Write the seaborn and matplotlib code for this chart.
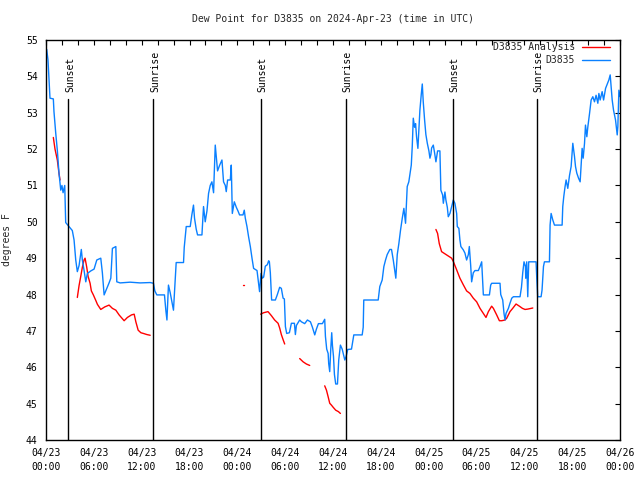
import numpy as np
import pandas as pd
import matplotlib
matplotlib.use("Agg")
import matplotlib.pyplot as plt
import seaborn as sns

# ---------------- data ----------------
title = "Dew Point for D3835 on 2024-Apr-23 (time in UTC)"
ylabel = "degrees F"
tick_labels = ["04/23\n00:00", "04/23\n06:00", "04/23\n12:00", "04/23\n18:00",
               "04/24\n00:00", "04/24\n06:00", "04/24\n12:00", "04/24\n18:00",
               "04/25\n00:00", "04/25\n06:00", "04/25\n12:00", "04/25\n18:00",
               "04/26\n00:00"]
series_names = ["D3835 Analysis", "D3835"]

# hours since 2024-04-23 00:00 UTC
sun_hours = [2.8, 13.48, 26.92, 37.65, 51.04, 61.6]
sun_labels = ["Sunset", "Sunrise", "Sunset", "Sunrise", "Sunset", "Sunrise"]

obs_hours = [0.09, 0.25, 0.5, 0.92, 1.0, 1.22, 1.42, 1.63, 1.85, 2.0, 2.14, 2.35, 2.47, 2.89, 3.3,
             3.52, 3.73, 3.93, 4.15, 4.43, 4.56, 4.77, 4.99, 5.19, 5.62, 6.03, 6.37, 6.87, 7.07,
             7.29, 7.5, 7.91, 8.13, 8.33, 8.76, 8.88, 9.3, 10.55, 11.8, 13.07, 13.48, 13.65,
             13.9, 14.86, 15.04, 15.17, 15.36, 15.58, 15.79, 15.99, 16.2, 16.33, 17.25, 17.34,
             17.59, 18.09, 18.3, 18.5, 18.63, 18.84, 19.01, 19.56, 19.76, 19.97, 20.19, 20.39,
             20.6, 20.81, 21.02, 21.23, 21.36, 21.52, 21.77, 22.07, 22.27, 22.49, 22.61, 22.78,
             23.12, 23.24, 23.37, 23.62, 23.87, 24.08, 24.28, 24.71, 24.87, 25.0, 25.21, 25.41,
             25.63, 25.84, 26.04, 26.47, 26.67, 26.79, 26.97, 27.14, 27.3, 27.51, 27.76, 27.93,
             28.02, 28.14, 28.3, 28.77, 29.02, 29.31, 29.52, 29.74, 29.9, 30.03, 30.19, 30.53,
             30.78, 31.16, 31.28, 31.41, 31.82, 32.04, 32.45, 32.79, 33.17, 33.42, 33.71, 33.92,
             34.17, 34.67, 34.96, 35.05, 35.21, 35.39, 35.46, 35.59, 35.72, 35.84, 35.93, 36.06,
             36.18, 36.34, 36.56, 36.72, 36.93, 37.15, 37.31, 37.48, 37.65, 37.85, 38.32, 38.61,
             39.66, 39.79, 39.86, 41.67, 41.87, 42.17, 42.38, 42.59, 42.8, 43.13, 43.34, 43.56,
             43.72, 43.88, 44.06, 44.26, 44.47, 44.69, 44.89, 45.1, 45.31, 45.51, 45.82, 45.94,
             46.07, 46.23, 46.36, 46.48, 46.65, 46.77, 46.9, 47.07, 47.2, 47.32, 47.49, 47.65,
             47.83, 48.03, 48.16, 48.28, 48.37, 48.58, 48.74, 48.91, 49.12, 49.41, 49.53, 49.75,
             49.84, 50.04, 50.16, 50.34, 50.46, 50.67, 50.88, 51.09, 51.29, 51.51, 51.59, 51.79,
             51.92, 52.04, 52.34, 52.55, 52.76, 52.98, 53.1, 53.27, 53.39, 53.6, 53.81, 54.23,
             54.44, 54.65, 54.77, 54.86, 55.62, 55.78, 55.9, 56.95, 57.04, 57.29, 57.45, 57.58,
             57.7, 58.0, 58.2, 58.42, 58.63, 59.46, 59.64, 59.8, 59.96, 60.14, 60.18, 60.3,
             60.43, 60.55, 61.47, 61.56, 61.68, 62.1, 62.22, 62.4, 62.52, 63.15, 63.23, 63.36,
             63.57, 63.78, 64.74, 64.82, 64.95, 65.11, 65.24, 65.45, 65.67, 65.87, 66.08, 66.29,
             66.42, 66.58, 66.8, 67.0, 67.13, 67.25, 67.38, 67.55, 67.67, 67.84, 67.96, 68.18,
             68.38, 68.59, 68.8, 69.0, 69.22, 69.35, 69.51, 69.76, 69.94, 70.19, 70.35, 70.6,
             70.77, 70.89, 71.02, 71.19, 71.44, 71.65, 71.73, 71.86, 72.02]
obs_values = [54.74, 54.45, 53.4, 53.38, 53.03, 52.44, 51.97, 51.34, 50.87, 51.0, 50.8, 51.0, 49.98,
              49.87, 49.76, 49.5, 48.95, 48.63, 48.8, 49.24, 48.95, 48.67, 48.35, 48.58, 48.65,
              48.7, 48.95, 49.0, 48.6, 47.99, 48.1, 48.32, 48.45, 49.27, 49.32, 48.35, 48.32,
              48.34, 48.32, 48.33, 48.31, 48.1, 47.99, 47.99, 47.55, 47.3, 48.26, 48.05, 47.8,
              47.57, 48.4, 48.88, 48.88, 49.3, 49.87, 49.87, 50.2, 50.46, 50.1, 49.8, 49.64,
              49.64, 50.42, 50.0, 50.3, 50.78, 51.0, 51.1, 50.8, 52.11, 51.8, 51.4, 51.55, 51.7,
              51.1, 51.0, 50.83, 51.15, 51.15, 51.56, 50.23, 50.55, 50.4, 50.3, 50.19, 50.19,
              50.32, 50.1, 49.87, 49.59, 49.32, 49.0, 48.72, 48.66, 48.31, 48.08, 48.58, 48.45,
              48.48, 48.78, 48.82, 48.93, 48.9, 48.6, 47.85, 47.85, 48.0, 48.2, 48.17, 47.9,
              47.88, 47.12, 46.93, 46.95, 47.21, 47.21, 46.9, 47.15, 47.3, 47.25, 47.2, 47.3,
              47.25, 47.1, 46.89, 47.05, 47.2, 47.2, 47.32, 46.85, 46.5, 46.38, 46.1, 45.88, 46.5,
              46.95, 46.6, 46.3, 45.8, 45.54, 45.54, 46.2, 46.61, 46.5, 46.35, 46.2, 46.3, 46.49,
              46.5, 46.89, 46.89, 47.1, 47.85, 47.85, 48.22, 48.4, 48.77, 48.95, 49.1, 49.24,
              49.24, 48.95, 48.7, 48.45, 49.1, 49.4, 49.77, 50.1, 50.37, 49.96, 50.97, 51.1,
              51.56, 52.07, 52.85, 52.6, 52.7, 52.34, 52.02, 52.55, 53.07, 53.5, 53.79, 53.3,
              52.8, 52.4, 52.16, 51.95, 51.75, 51.85, 52.03, 52.11, 51.9, 51.65, 51.95, 51.95,
              50.87, 50.74, 50.51, 50.82, 50.6, 50.4, 50.14, 50.23, 50.42, 50.6, 50.51, 50.23,
              49.87, 49.82, 49.5, 49.32, 49.23, 49.14, 48.95, 49.1, 49.32, 48.8, 48.35, 48.6,
              48.66, 48.66, 48.77, 48.9, 48.4, 47.99, 47.99, 48.26, 48.31, 48.31, 48.0, 47.85,
              47.48, 47.3, 47.48, 47.62, 47.76, 47.9, 47.94, 47.94, 48.2, 48.6, 48.9, 48.77,
              48.45, 48.9, 47.94, 48.9, 48.9, 48.45, 47.94, 47.94, 48.12, 48.77, 48.9, 48.9,
              49.91, 50.23, 50.05, 49.91, 49.91, 50.42, 50.7, 50.97, 51.15, 50.92, 51.28, 51.52,
              52.16, 51.8, 51.52, 51.34, 51.2, 51.1, 51.6, 52.02, 51.75, 52.16, 52.66, 52.34,
              52.6, 52.98, 53.35, 53.44, 53.3, 53.48, 53.26, 53.53, 53.35, 53.58, 53.35, 53.67,
              53.76, 53.9, 54.04, 53.72, 53.35, 53.07, 52.8, 52.39, 52.62, 53.62, 53.44]

# analysis series; None marks a gap in the data
ana_hours = [0.92, 1.13, 1.42, 1.63, 1.76, None,
             3.93, 4.15, 4.36, 4.56, 4.77, 4.9, 5.11, 5.28, 5.53, 5.69, 5.94, 6.24, 6.45, 6.87,
             7.37, 7.91, 8.33, 8.76, 9.17, 9.8, 10.21, 10.72, 11.06, 11.27, 11.56, 11.9, 12.22,
             12.65, 13.07, None,
             24.66, 24.87, None,
             26.92, 27.3, 27.85, 28.27, 28.68, 29.11, 29.31, 29.52, 29.74, 29.94, None,
             31.82, 32.25, 32.66, 33.08, None,
             34.96, 35.18, 35.39, 35.59, 35.8, 36.02, 36.34, 36.68, 36.93, None,
             48.91, 49.12, 49.33, 49.62, 50.04, 50.46, 50.88, 51.09, 51.51, 51.92, 52.34, 52.76,
             53.18, 53.6, 54.02, 54.44, 54.86, 55.19, 55.49, 55.9, 56.12, 56.53, 56.87, 57.16,
             57.58, 57.79, 58.2, 58.54, 58.96, 59.38, 59.76, 60.09, 60.43, 61.06]
ana_values = [52.32, 52.0, 51.7, 51.33, 51.15, None,
              47.92, 48.25, 48.5, 48.75, 48.95, 49.0, 48.75, 48.5, 48.31, 48.1, 47.99, 47.84,
              47.73, 47.59, 47.66, 47.71, 47.62, 47.57, 47.44, 47.28, 47.37, 47.44, 47.46,
              47.25, 47.02, 46.95, 46.93, 46.9, 46.88, None,
              48.25, 48.25, None,
              47.46, 47.5, 47.53, 47.42, 47.3, 47.21, 47.08, 46.9, 46.76, 46.64, None,
              46.24, 46.15, 46.09, 46.05, None,
              45.49, 45.37, 45.19, 45.01, 44.96, 44.9, 44.82, 44.78, 44.73, None,
              49.79, 49.68, 49.4, 49.18, 49.12, 49.06, 49.0, 48.91, 48.68, 48.45, 48.27, 48.1,
              48.03, 47.9, 47.8, 47.62, 47.48, 47.37, 47.53, 47.68, 47.62, 47.44, 47.28, 47.28,
              47.3, 47.35, 47.53, 47.62, 47.74, 47.68, 47.62, 47.59, 47.6, 47.63]

# ---------------- build table ----------------
rows = []
seg = 0
for h, v in zip(ana_hours, ana_values):
    if h is None:
        seg += 1
        continue
    rows.append({"hour": h, "value": v, "series": series_names[0], "seg": f"a{seg}"})
for h, v in zip(obs_hours, obs_values):
    rows.append({"hour": h, "value": v, "series": series_names[1], "seg": "b0"})
df = pd.DataFrame(rows)

# ---------------- style ----------------
sns.set_style("white")
plt.rcParams["font.family"] = ["DejaVu Sans Mono", "DejaVu Sans"]
plt.rcParams["font.size"] = 7

fig = plt.figure(figsize=(6.4, 4.8), dpi=100)
ax = fig.add_axes([46 / 640, 40 / 480, 574 / 640, 400 / 480])

palette = {series_names[0]: "#ff0000", series_names[1]: "#0a80ff"}
sns.lineplot(data=df, x="hour", y="value", hue="series", units="seg",
             estimator=None, sort=False, palette=palette, linewidth=1.0,
             hue_order=series_names, ax=ax)

for h, lab in zip(sun_hours, sun_labels):
    ax.axvline(h, ymin=0, ymax=0.852, color="black", linewidth=1.0)
    ax.text(h + 0.2, 0.87, lab, rotation=90, ha="center", va="bottom",
            transform=ax.get_xaxis_transform(), fontsize=7, color="black")

ax.set_xlim(0, 72)
ax.set_ylim(44, 55)
ax.set_xticks(np.arange(0, 73, 6))
ax.set_xticklabels(tick_labels, linespacing=1.45)
ax.set_xticks(np.arange(0, 73, 2), minor=True)
ax.set_yticks(np.arange(44, 56, 1))
ax.tick_params(which="both", direction="in", length=3.5, width=0.8, top=True, right=True,
               colors="black", labelsize=7)
ax.tick_params(axis="x", pad=6)
ax.tick_params(axis="y", pad=6)
for s in ax.spines.values():
    s.set_color("black")
    s.set_linewidth(1.0)

ax.set_xlabel("")
ax.set_ylabel(ylabel, fontsize=7, labelpad=10)
ax.set_title(title, fontsize=7, pad=13)

leg = ax.legend(loc="upper right", bbox_to_anchor=(0.983, 0.995), frameon=False,
                markerfirst=False, handlelength=2.9, handletextpad=0.7,
                labelspacing=0.35, borderpad=0, borderaxespad=0, fontsize=7)

fig.savefig("out.png", dpi=100)
